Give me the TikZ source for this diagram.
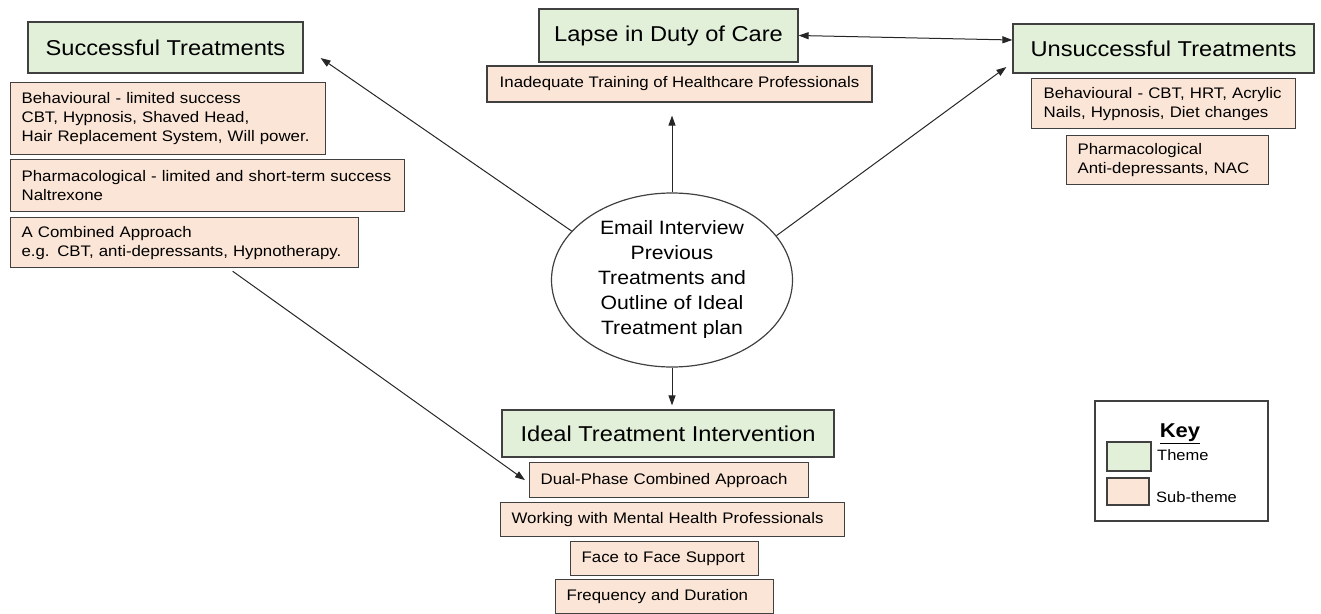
\documentclass[tikz,border=0pt]{standalone}
\usepackage{fontspec}
\setmainfont{Liberation Sans}[FakeStretch=1.1]
\usetikzlibrary{arrows.meta,shapes.geometric}
\definecolor{themefill}{HTML}{E2EFD9}
\definecolor{subfill}{HTML}{FBE5D6}
\definecolor{edgecol}{HTML}{404040}

\begin{document}
\begin{tikzpicture}[x=1pt,y=-1pt,
  box/.style={draw=edgecol,line width=1.2pt,inner sep=0pt},
  theme/.style={box,fill=themefill,font=\fontsize{21.5}{26}\selectfont},
  sub/.style={box,fill=subfill,anchor=north west,align=left,inner xsep=11pt,
    font=\fontsize{15.3}{19}\selectfont},
  hub/.style={draw=edgecol,line width=1.2pt,ellipse,inner sep=0pt,align=center,
    font=\fontsize{19.3}{25}\selectfont},
  keytext/.style={anchor=west,inner sep=0pt,font=\fontsize{15}{18}\selectfont},
  arr/.style={-{Triangle[length=10pt,width=7pt]},line width=1pt,black!85},
  dblarr/.style={{Triangle[length=10pt,width=7pt]}-{Triangle[length=10pt,width=7pt]},
    line width=1pt,black!85},
]
\useasboundingbox (0,0) rectangle (1321,613);

% central interview node
\node[hub,minimum width=241pt,minimum height=174pt] (ell) at (672,280)
  {Email Interview\\Previous\\Treatments and\\Outline of Ideal\\Treatment plan};

% successful treatments
\node[theme,minimum width=275pt,minimum height=51pt] (succ) at (165.5,47.5) {Successful Treatments};
\node[sub,text width=293pt,minimum height=72pt] (behav) at (10,82)
  {Behavioural - limited success\\CBT, Hypnosis, Shaved Head,\\Hair Replacement System, Will power.};
\node[sub,text width=372pt,minimum height=52pt] (pharm) at (10,159)
  {\mbox{Pharmacological - limited and short-term success}\\Naltrexone};
\node[sub,text width=326pt,minimum height=50pt] (comb) at (10,217)
  {A Combined Approach\\e.g. CBT, anti-depressants, Hypnotherapy.};

% lapse in duty of care
\node[theme,minimum width=259pt,minimum height=53pt] (lapse) at (668.5,35.5) {Lapse in Duty of Care};
\node[box,fill=subfill,minimum width=385pt,minimum height=36pt,
  font=\fontsize{15.3}{19}\selectfont] (inad) at (679.5,84)
  {Inadequate Training of Healthcare Professionals};

% unsuccessful treatments
\node[theme,minimum width=301pt,minimum height=49pt] (unsucc) at (1163.5,48.5) {Unsuccessful Treatments};
\node[sub,inner xsep=12pt,text width=240pt,minimum height=50pt] (ubehav) at (1031,78)
  {Behavioural - CBT, HRT, Acrylic\\Nails, Hypnosis, Diet changes};
\node[sub,text width=180pt,minimum height=49pt] (upharm) at (1066,135)
  {Pharmacological\\Anti-depressants, NAC};

% ideal treatment intervention
\node[theme,minimum width=332pt,minimum height=47pt] (ideal) at (668,433.5) {Ideal Treatment Intervention};
\node[sub,text width=257pt,minimum height=35pt] (dual) at (529,462) {Dual-Phase Combined Approach};
\node[sub,text width=322pt,minimum height=34pt] (work) at (500,502) {\mbox{Working with Mental Health Professionals}};
\node[sub,text width=166pt,minimum height=34pt] (face) at (570,541) {Face to Face Support};
\node[sub,text width=196pt,minimum height=34pt] (freq) at (555,579) {Frequency and Duration};

% key
\node[box,fill=white,minimum width=173pt,minimum height=120pt] (key) at (1181.5,461) {};
\node[font=\bfseries\fontsize{20}{24}\selectfont,inner sep=0pt] (keytitle) at (1180,434) {\underline{Key}};
\node[box,fill=themefill,minimum width=44pt,minimum height=29pt] (swtheme) at (1129,456.5) {};
\node[box,fill=subfill,minimum width=42pt,minimum height=27pt] (swsub) at (1128,491.5) {};
\node[keytext] (lbltheme) at (1157,455) {Theme};
\node[keytext] (lblsub) at (1156,497) {Sub-theme};

% connectors
\draw[arr] (ell.154) -- ([xshift=17pt,yshift=-10.5pt]succ.east);
\draw[arr] (ell.23) -- ([xshift=-6pt,yshift=-18.5pt]unsucc.west);
\draw[arr] (ell.north) -- ([yshift=-13pt]ell.north |- inad.south);
\draw[arr] (ell.south) -- ([yshift=4pt]ell.south |- ideal.north);
\draw[dblarr] (lapse.east) -- ([yshift=8.5pt]unsucc.west);
\draw[arr] ([xshift=48pt,yshift=-3pt]comb.south) -- ([xshift=-4pt]dual.west);
\end{tikzpicture}
\end{document}
